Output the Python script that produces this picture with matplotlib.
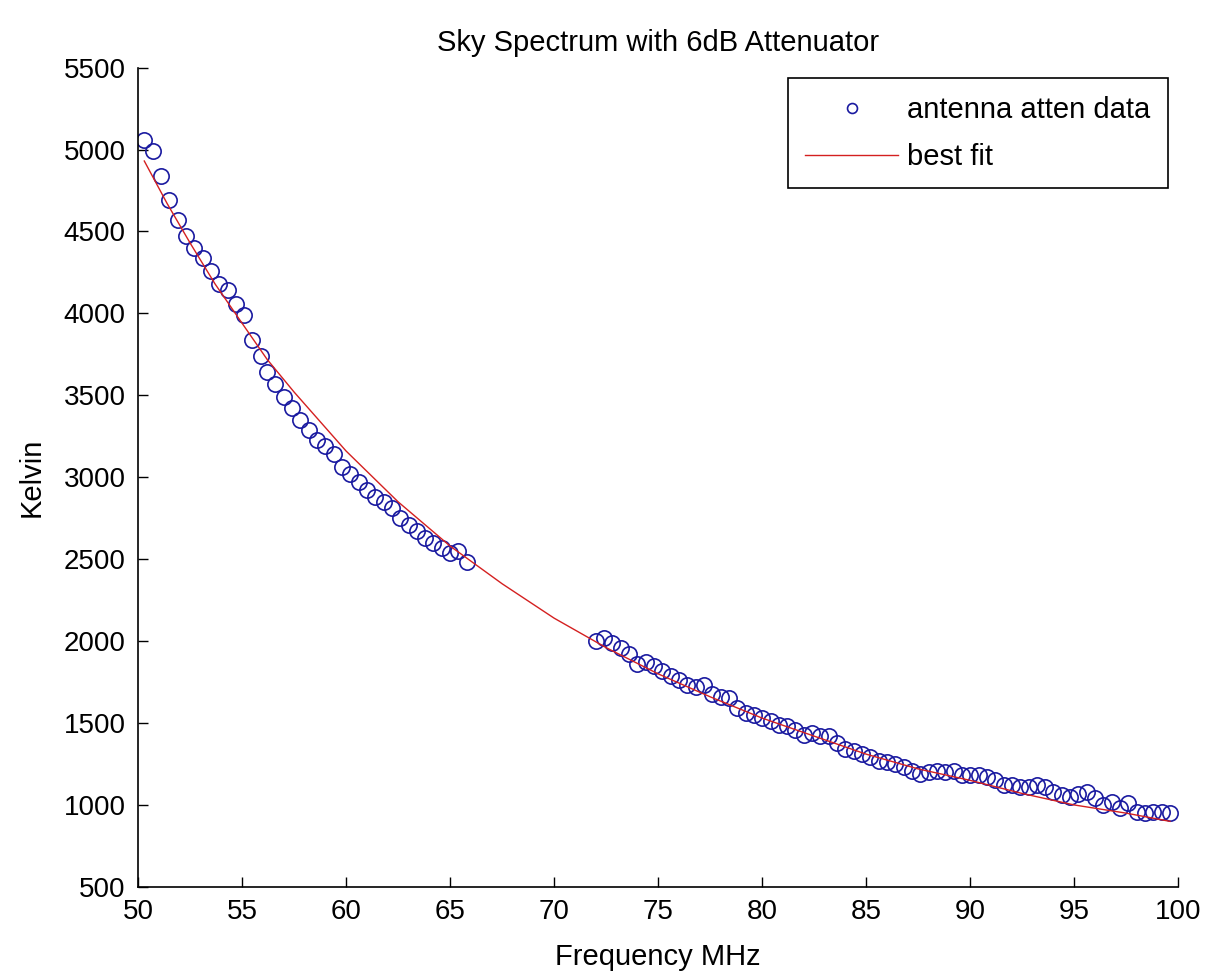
import matplotlib
matplotlib.use('Agg')
import matplotlib.pyplot as plt

# antenna data, low band segment
freq_low = [50.3, 50.7, 51.1, 51.5, 51.9, 52.3, 52.7, 53.1, 53.5, 53.9,
            54.3, 54.7, 55.1, 55.5, 55.9, 56.2, 56.6, 57.0, 57.4, 57.8,
            58.2, 58.6, 59.0, 59.4, 59.8, 60.2, 60.6, 61.0, 61.4, 61.8,
            62.2, 62.6, 63.0, 63.4, 63.8, 64.2, 64.6, 65.0, 65.4, 65.8]
kelvin_low = [5060, 4990, 4840, 4690, 4570, 4470, 4400, 4340, 4260, 4180,
              4140, 4060, 3990, 3840, 3740, 3640, 3570, 3490, 3420, 3350,
              3290, 3230, 3190, 3140, 3060, 3020, 2970, 2920, 2880, 2850,
              2810, 2750, 2710, 2670, 2630, 2600, 2570, 2540, 2550, 2480]

# antenna data, high band segment
freq_high = [72.0, 72.4, 72.8, 73.2, 73.6, 74.0, 74.4, 74.8, 75.2, 75.6,
             76.0, 76.4, 76.8, 77.2, 77.6, 78.0, 78.4, 78.8, 79.2, 79.6,
             80.0, 80.4, 80.8, 81.2, 81.6, 82.0, 82.4, 82.8, 83.2, 83.6,
             84.0, 84.4, 84.8, 85.2, 85.6, 86.0, 86.4, 86.8, 87.2, 87.6,
             88.0, 88.4, 88.8, 89.2, 89.6, 90.0, 90.4, 90.8, 91.2, 91.6,
             92.0, 92.4, 92.8, 93.2, 93.6, 94.0, 94.4, 94.8, 95.2, 95.6,
             96.0, 96.4, 96.8, 97.2, 97.6, 98.0, 98.4, 98.8, 99.2, 99.6]
kelvin_high = [2000, 2020, 1990, 1960, 1920, 1860, 1870, 1850, 1820, 1790,
               1760, 1730, 1720, 1730, 1680, 1660, 1650, 1590, 1560, 1550,
               1530, 1510, 1490, 1480, 1460, 1430, 1440, 1420, 1420, 1380,
               1340, 1330, 1310, 1290, 1270, 1260, 1250, 1230, 1210, 1190,
               1200, 1210, 1200, 1210, 1180, 1180, 1180, 1170, 1150, 1120,
               1120, 1110, 1110, 1120, 1110, 1080, 1060, 1050, 1070, 1080,
               1040, 1000, 1020, 980, 1010, 960, 950, 960, 960, 950]

# best fit curve
fit_freq = [50.3, 51.4, 52.5, 53.7, 55, 56.2, 57.5, 60, 62.5, 65, 67.5, 70,
            72.5, 75, 77.5, 80, 82.5, 85, 87.5, 90, 92.5, 95, 97.5, 99.6]
fit_kelvin = [4930, 4670, 4430, 4180, 3940, 3720, 3520, 3160, 2850, 2580,
              2350, 2140, 1960, 1800, 1660, 1530, 1420, 1310, 1220, 1150,
              1070, 1000, 950, 900]

plt.rcParams['font.family'] = ['Liberation Sans', 'DejaVu Sans']

fig = plt.figure(figsize=(12.11, 9.8), dpi=100)
ax = fig.add_axes([0.114, 0.095, 0.859, 0.836])

ax.plot(freq_low + freq_high, kelvin_low + kelvin_high, 'o', mfc='none',
        mec='#1a1aa0', ms=11, mew=1.2, label='antenna atten data')
ax.plot(fit_freq, fit_kelvin, '-', color='#d42020', lw=1.0, label='best fit')

ax.set_xlim(50, 100)
ax.set_ylim(500, 5500)
ax.set_xticks(range(50, 101, 5))
ax.set_yticks(range(500, 5501, 500))
ax.tick_params(direction='in', length=7, width=1, labelsize=20, pad=9)
ax.spines['top'].set_visible(False)
ax.spines['right'].set_visible(False)
ax.spines['left'].set_linewidth(1.2)
ax.spines['bottom'].set_linewidth(1.2)

ax.set_title('Sky Spectrum with 6dB Attenuator', fontsize=21, pad=12)
ax.set_xlabel('Frequency MHz', fontsize=21, labelpad=13)
ax.set_ylabel('Kelvin', fontsize=21, labelpad=13)

leg = ax.legend(loc='upper right', bbox_to_anchor=(0.99, 0.987), fontsize=21,
                markerscale=0.65, handlelength=3.2, handletextpad=0.3,
                fancybox=False, framealpha=1, borderpad=0.6,
                labelspacing=0.65, borderaxespad=0)
leg.get_frame().set_edgecolor('black')
leg.get_frame().set_linewidth(1.2)

fig.savefig('out.png', dpi=100)
